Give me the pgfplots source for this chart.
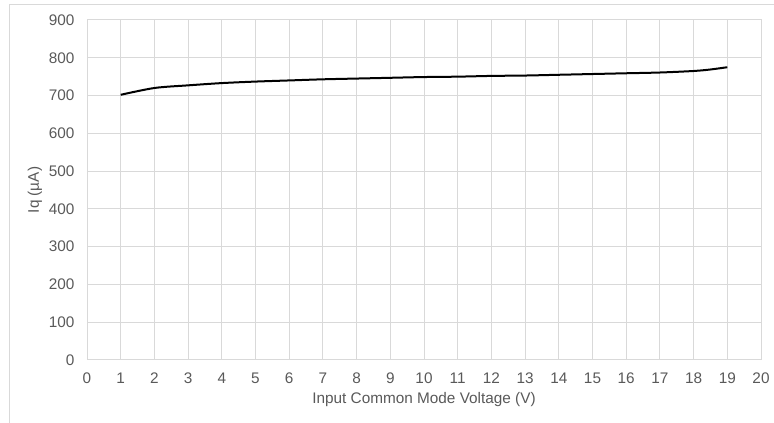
\documentclass[border=0pt]{standalone}
\usepackage{pgfplots}
\pgfplotsset{compat=1.18}
\usepackage{fontspec}
\setmainfont{Liberation Sans}
\definecolor{gridc}{HTML}{D9D9D9}
\definecolor{txtc}{HTML}{595959}
\begin{document}
\begin{tikzpicture}
\path[use as bounding box] (0,0) rectangle (580.5pt,317.25pt);
\draw[gridc, line width=0.75pt] (6.75pt,0) -- (6.75pt,313.5pt) -- (580.5pt,313.5pt);
\begin{axis}[
  at={(65.25pt,47.25pt)}, anchor=south west,
  scale only axis, width=505.5pt, height=255pt,
  xmin=0, xmax=20, ymin=0, ymax=900,
  xtick={0,1,...,20}, ytick={0,100,...,900},
  major tick length=0pt,
  grid=major,
  major grid style={gridc, line width=0.75pt},
  axis line style={gridc, line width=0.75pt},
  tick label style={font=\fontsize{11.5}{13}\selectfont, text=txtc},
  /pgf/number format/assume math mode=true,
  yticklabel style={xshift=-5.9pt},
  xticklabel style={yshift=-5.9pt},
  xlabel={Input Common Mode Voltage (V)},
  ylabel={Iq (µA)},
  label style={font=\fontsize{11.5}{13}\selectfont, text=txtc},
  xlabel style={at={(axis description cs:0.5,0)}, anchor=north, yshift=-20.7pt},
  ylabel style={at={(axis description cs:0,0.5)}, anchor=center, rotate=0, xshift=0pt, yshift=39pt},
  clip=false,
]
\addplot[black, line width=1.5pt, smooth, tension=0.5] coordinates {
(1,702) (2,720) (3,727) (4,733) (5,737) (6,740) (7,743) (8,745) (9,747) (10,749)
(11,750) (12,752) (13,753) (14,755) (15,757) (16,759) (17,761) (18,765) (18.5,769) (19,775)
};
\end{axis}
\end{tikzpicture}
\end{document}
